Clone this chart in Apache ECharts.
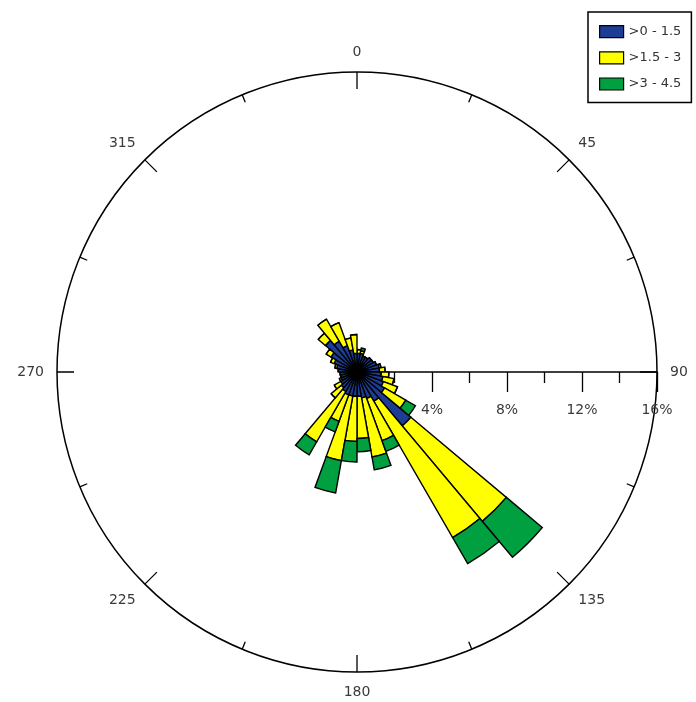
<!DOCTYPE html>
<html>
<head>
<meta charset="utf-8">
<title>Wind rose</title>
<script src="https://cdn.jsdelivr.net/npm/echarts@6.0.0/dist/echarts.min.js"></script>
<style>
  html, body { margin: 0; padding: 0; background: #fff; }
  #main { width: 696px; height: 702px; }
</style>
</head>
<body>
<div id="main"></div>
<script>
  // direction sectors, 10 deg each, labelled by their centre bearing
  var directions = ['5', '15', '25', '35', '45', '55', '65', '75', '85', '95', '105', '115',
    '125', '135', '145', '155', '165', '175', '185', '195', '205', '215', '225', '235',
    '245', '255', '265', '275', '285', '295', '305', '315', '325', '335', '345', '355'];

  var bandNames = ['>0 - 1.5', '>1.5 - 3', '>3 - 4.5'];

  // frequency (%) of each speed class per direction
  var band1 = [1.0, 1.0, 0.9, 0.9, 1.0, 1.0, 1.1, 1.2, 1.2, 1.3, 1.4, 1.5,
    1.7, 3.75, 1.8, 1.5, 1.4, 1.3, 1.3, 1.3, 1.3, 1.2, 1.1, 1.0,
    0.9, 0.9, 0.9, 1.0, 1.1, 1.3, 1.6, 2.2, 1.9, 1.5, 1.2, 1.0];
  var band2 = [0.2, 0.15, 0, 0, 0, 0, 0, 0.1, 0.3, 0.4, 0.6, 0.8,
    1.3, 6.65, 8.4, 2.4, 3.2, 2.25, 2.4, 3.5, 1.5, 3.1, 0.7, 0.4,
    0.1, 0, 0, 0, 0.1, 0.2, 0.3, 0.5, 1.35, 1.3, 0.65, 1.0];
  var band3 = [0, 0.15, 0, 0, 0, 0, 0, 0, 0, 0, 0, 0,
    0.6, 2.5, 1.6, 0.6, 0.7, 0.7, 1.1, 1.75, 0.6, 0.8, 0, 0,
    0, 0, 0, 0, 0, 0, 0, 0, 0, 0, 0, 0];

  var bandColors = ['#1d3c93', '#ffff00', '#00a040'];

  var rMax = 16;
  var radiusTicks = 4;      // labelled every 4 %
  var compassStep = 45;     // labelled every 45 deg

  var fontName = 'DejaVu Sans';
  var labelColor = '#3a3a3a';

  var chartDom = document.getElementById('main');
  var myChart = echarts.init(chartDom, null, { renderer: 'canvas' });

  var bands = [band1, band2, band3];
  var series = [];
  for (var i = 0; i < bands.length; i++) {
    series.push({
      name: bandNames[i],
      type: 'bar',
      coordinateSystem: 'polar',
      polarIndex: 0,
      stack: 'rose',
      barCategoryGap: '0%',
      z: 5,
      itemStyle: {
        color: bandColors[i],
        borderColor: '#000',
        borderWidth: 1.4
      },
      data: bands[i]
    });
  }

  var option = {
    backgroundColor: '#fff',
    animation: false,
    textStyle: { fontFamily: fontName },
    legend: {
      orient: 'vertical',
      left: 588,
      top: 12,
      padding: [13, 10, 12, 11],
      itemWidth: 24,
      itemHeight: 12,
      itemGap: 13,
      borderColor: '#000',
      borderWidth: 1.5,
      icon: 'rect',
      itemStyle: { borderColor: '#000', borderWidth: 1.2 },
      textStyle: { fontFamily: fontName, fontSize: 13, color: '#333' },
      data: bandNames
    },
    polar: [
      { center: [357, 372], radius: 300 },
      { center: [357, 372], radius: 300 }
    ],
    angleAxis: [
      {
        polarIndex: 0,
        type: 'category',
        data: directions,
        startAngle: 90,
        clockwise: true,
        show: false
      },
      {
        // compass ring: value 0 sits at east, bearing = value + 90
        polarIndex: 1,
        type: 'value',
        min: 0,
        max: 360,
        interval: compassStep,
        startAngle: 0,
        clockwise: true,
        axisLine: { lineStyle: { color: '#000', width: 1.5 } },
        axisTick: { inside: true, length: 17, lineStyle: { color: '#000', width: 1.3 } },
        minorTick: { show: true, splitNumber: 2, length: 8, lineStyle: { color: '#000', width: 1.3 } },
        splitLine: { show: false },
        axisLabel: {
          margin: 13,
          fontFamily: fontName,
          fontSize: 14,
          color: labelColor,
          formatter: function (v) {
            return String((v + 90) % 360);
          }
        }
      }
    ],
    radiusAxis: [
      { polarIndex: 0, type: 'value', min: 0, max: rMax, show: false },
      { polarIndex: 1, type: 'value', min: 0, max: rMax, show: false }
    ],
    // the % scale drawn along the east radius
    grid: { left: 357, width: 300, top: 100, height: 272, containLabel: false },
    xAxis: {
      type: 'value',
      min: 0,
      max: rMax,
      interval: radiusTicks,
      position: 'bottom',
      axisLine: { lineStyle: { color: '#000', width: 1.5 } },
      axisTick: { length: 20, lineStyle: { color: '#000', width: 1.3 } },
      minorTick: { show: true, splitNumber: 2, length: 11, lineStyle: { color: '#000', width: 1.3 } },
      splitLine: { show: false },
      axisLabel: {
        margin: 31,
        fontFamily: fontName,
        fontSize: 14,
        color: labelColor,
        formatter: function (v) {
          return v === 0 ? '' : v + '%';
        }
      }
    },
    yAxis: { type: 'value', min: 0, max: 1, show: false },
    series: series
  };

  myChart.setOption(option);
</script>
</body>
</html>
